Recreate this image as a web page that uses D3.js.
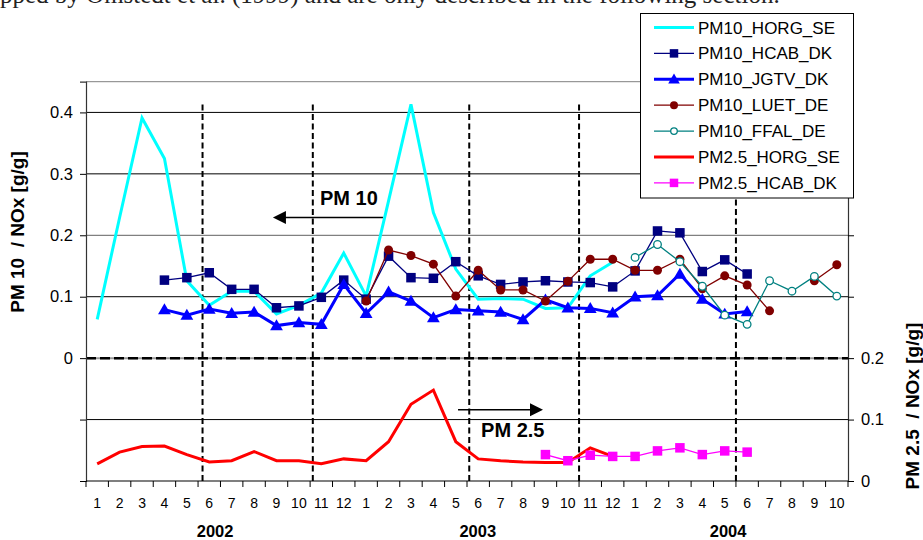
<!DOCTYPE html>
<html>
<head>
<meta charset="utf-8">
<script src="https://cdn.jsdelivr.net/npm/d3@7"></script>
<style>
  html, body { margin: 0; padding: 0; background: #fff; }
  svg { display: block; font-family: "Liberation Sans", Arial, sans-serif; }
</style>
</head>
<body>
<svg id="chart" width="923" height="540"></svg>
<script>
// ---------- data ----------
const monthLabels = [1,2,3,4,5,6,7,8,9,10,11,12, 1,2,3,4,5,6,7,8,9,10,11,12, 1,2,3,4,5,6,7,8,9,10];
const yearLabels = ["2002", "2003", "2004"];
const yearLabelAt = [5.76, 17.48, 28.65];          // position in month-index units
const seasonBreaks = [5.2, 10.12, 17.1, 22.0, 29.0]; // dashed separators, month-index units
const leftTicks = [0.4, 0.3, 0.2, 0.1, 0];
const rightTicks = [0.2, 0.1, 0];

const N = null;
const pm10_HORG_SE = [0.063,0.229,0.391,0.325,0.126,0.086,0.109,0.109,0.072,0.086,0.106,0.171,
                      0.101,0.256,0.413,0.237,0.145,0.096,0.097,0.096,0.081,0.082,0.134,0.156,
                      N,N,N,N,N,N,N,N,N,N];
const pm10_HCAB_DK = [N,N,N,0.127,0.131,0.139,0.112,0.112,0.082,0.085,0.099,0.127,
                      0.096,0.166,0.131,0.130,0.157,0.134,0.120,0.124,0.126,0.124,0.123,0.116,
                      0.142,0.207,0.204,0.141,0.160,0.137,N,N,N,N];
const pm10_JGTV_DK = [N,N,N,0.079,0.070,0.080,0.073,0.075,0.053,0.058,0.055,0.120,
                      0.073,0.108,0.093,0.066,0.079,0.077,0.075,0.063,0.095,0.082,0.081,0.074,
                      0.100,0.102,0.137,0.096,0.072,0.076,N,N,N,N];
const pm10_LUET_DE = [N,N,N,N,N,N,N,N,N,N,N,N,
                      0.093,0.176,0.167,0.153,0.101,0.143,0.111,0.111,0.093,0.125,0.161,0.161,
                      0.143,0.143,0.161,0.113,0.134,0.119,0.077,N,0.126,0.152];
const pm10_FFAL_DE = [N,N,N,N,N,N,N,N,N,N,N,N,
                      N,N,N,N,N,N,N,N,N,N,N,N,
                      0.164,0.185,0.157,0.117,0.070,0.055,0.126,0.109,0.133,0.101];
const pm25_HORG_SE = [0.028,0.047,0.056,0.057,0.043,0.031,0.033,0.048,0.033,0.033,0.028,0.036,
                      0.033,0.064,0.125,0.148,0.064,0.036,0.033,0.031,0.030,0.030,0.054,0.040,
                      N,N,N,N,N,N,N,N,N,N];
const pm25_HCAB_DK = [N,N,N,N,N,N,N,N,N,N,N,N,
                      N,N,N,N,N,N,N,N,0.043,0.033,0.042,0.040,
                      0.040,0.049,0.054,0.043,0.049,0.047,N,N,N,N];

const series = [
  { name: "PM10_HORG_SE", values: pm10_HORG_SE, axis: "L", color: "#00FFFF", width: 3,   marker: null },
  { name: "PM10_HCAB_DK", values: pm10_HCAB_DK, axis: "L", color: "#000080", width: 1.3, marker: "square" },
  { name: "PM10_JGTV_DK", values: pm10_JGTV_DK, axis: "L", color: "#0000FF", width: 3,   marker: "triangle" },
  { name: "PM10_LUET_DE", values: pm10_LUET_DE, axis: "L", color: "#800000", width: 1.3, marker: "circle" },
  { name: "PM10_FFAL_DE", values: pm10_FFAL_DE, axis: "L", color: "#008080", width: 1.3, marker: "open" },
  { name: "PM2.5_HORG_SE", values: pm25_HORG_SE, axis: "R", color: "#FF0000", width: 3,  marker: null },
  { name: "PM2.5_HCAB_DK", values: pm25_HCAB_DK, axis: "R", color: "#FF00FF", width: 1.3, marker: "square" }
];

// ---------- layout ----------
const svg = d3.select("#chart");
const L = 86, R = 848, T = 81.7, B = 481;

const x = d3.scaleBand().domain(d3.range(monthLabels.length)).range([L, R]).padding(0);
const xc = i => x(i) + x.bandwidth() / 2;
const xAt = f => L + f * x.step();
const yL = d3.scaleLinear().domain([-0.2, 0.45]).range([B, T]);
const yR = d3.scaleLinear().domain([0, 0.65]).range([B, T]);

svg.append("rect").attr("width", 923).attr("height", 540).attr("fill", "#fff");

// clipped line of the surrounding document text (top edge of the page crop)
svg.append("text").attr("x", 0).attr("y", 3).attr("font-family", "Liberation Serif, Times New Roman, serif")
  .attr("font-size", 25).attr("fill", "#222").attr("xml:space", "preserve")
  .text("pped by Omstedt et al. (1999) and are only described in the following section.");

// horizontal gridlines
const g = svg.append("g");
[-0.1, 0.1, 0.3, 0.4].forEach(v => {
  g.append("line").attr("x1", L).attr("x2", R).attr("y1", yL(v)).attr("y2", yL(v))
    .attr("stroke", "#000").attr("stroke-width", 1);
});
g.append("line").attr("x1", L).attr("x2", R).attr("y1", yL(0.2)).attr("y2", yL(0.2))
  .attr("stroke", "#808080").attr("stroke-width", 1.3);
// top border
g.append("line").attr("x1", L).attr("x2", R).attr("y1", T).attr("y2", T)
  .attr("stroke", "#808080").attr("stroke-width", 1);
// zero line: gray base + black dashes
g.append("line").attr("x1", L).attr("x2", R).attr("y1", yL(0)).attr("y2", yL(0))
  .attr("stroke", "#999").attr("stroke-width", 2);
g.append("line").attr("x1", L).attr("x2", R).attr("y1", yL(0)).attr("y2", yL(0))
  .attr("stroke", "#000").attr("stroke-width", 2.5).attr("stroke-dasharray", "10,4");

// season separators
seasonBreaks.forEach(f => {
  g.append("line").attr("x1", xAt(f)).attr("x2", xAt(f))
    .attr("y1", yL(0.413)).attr("y2", B)
    .attr("stroke", "#000").attr("stroke-width", 2).attr("stroke-dasharray", "6,3.5");
});

// axes
const axL = svg.append("g").attr("transform", `translate(${L},0)`)
  .call(d3.axisLeft(yL).tickValues([0.4,0.3,0.2,0.1,0,-0.1,-0.2]).tickSize(6).tickPadding(7)
    .tickFormat(v => leftTicks.some(t => Math.abs(t - v) < 1e-9) ? (v === 0 ? "0" : d3.format(".1f")(v)) : ""));
axL.select(".domain").attr("stroke", "#333").attr("stroke-width", 1.2);
axL.selectAll("text").attr("font-size", 16.5).attr("fill", "#000").attr("font-family", "Liberation Sans, Arial, sans-serif");

const axR = svg.append("g").attr("transform", `translate(${R},0)`)
  .call(d3.axisRight(yR).tickValues([0,0.1,0.2,0.3,0.4,0.5,0.6]).tickSize(6).tickPadding(7)
    .tickFormat(v => rightTicks.some(t => Math.abs(t - v) < 1e-9) ? (v === 0 ? "0" : d3.format(".1f")(v)) : ""));
axR.select(".domain").attr("stroke", "#333").attr("stroke-width", 1.2);
axR.selectAll("text").attr("font-size", 16.5).attr("fill", "#000").attr("font-family", "Liberation Sans, Arial, sans-serif");

// bottom axis: line + boundary ticks + month labels
const axB = svg.append("g");
axB.append("line").attr("x1", L).attr("x2", R).attr("y1", B).attr("y2", B).attr("stroke", "#000").attr("stroke-width", 1.2);
d3.range(monthLabels.length + 1).forEach(i => {
  axB.append("line").attr("x1", xAt(i)).attr("x2", xAt(i)).attr("y1", B).attr("y2", B + 6)
    .attr("stroke", "#000").attr("stroke-width", 1);
});
axB.selectAll("text.m").data(monthLabels).join("text").attr("class", "m")
  .attr("x", (d, i) => xc(i)).attr("y", 508).attr("text-anchor", "middle")
  .attr("font-size", 14).text(d => d);
axB.selectAll("text.y").data(yearLabels).join("text").attr("class", "y")
  .attr("x", (d, i) => xAt(yearLabelAt[i])).attr("y", 537).attr("text-anchor", "middle")
  .attr("font-size", 16.5).attr("font-weight", "bold").text(d => d);

// axis titles
svg.append("text").attr("transform", "translate(24,232) rotate(-90)")
  .attr("text-anchor", "middle").attr("font-size", 19).attr("font-weight", "bold")
  .attr("xml:space", "preserve").text("PM 10  / NOx [g/g]");
svg.append("text").attr("transform", "translate(919,406) rotate(-90)")
  .attr("text-anchor", "middle").attr("font-size", 19).attr("font-weight", "bold")
  .attr("xml:space", "preserve").text("PM 2.5  / NOx [g/g]");

// ---------- markers ----------
function drawMarker(sel, type, color, cx, cy, size) {
  const s = size;
  if (type === "square") {
    sel.append("rect").attr("x", cx - s/2).attr("y", cy - s/2).attr("width", s).attr("height", s).attr("fill", color);
  } else if (type === "triangle") {
    const h = s * 0.95;
    sel.append("path").attr("d", `M${cx},${cy - h*0.6} L${cx + s*0.58},${cy + h*0.45} L${cx - s*0.58},${cy + h*0.45} Z`).attr("fill", color);
  } else if (type === "circle") {
    sel.append("circle").attr("cx", cx).attr("cy", cy).attr("r", s/2).attr("fill", color);
  } else if (type === "open") {
    sel.append("circle").attr("cx", cx).attr("cy", cy).attr("r", s/2 - 0.7).attr("fill", "#fff")
      .attr("stroke", color).attr("stroke-width", 1.3);
  }
}
const markerSize = { square: 9.5, triangle: 11, circle: 9, open: 9 };

// ---------- series ----------
const plot = svg.append("g");
series.forEach(s => {
  const y = s.axis === "L" ? yL : yR;
  const line = d3.line().defined(d => d != null).x((d, i) => xc(i)).y(d => y(d));
  plot.append("path").attr("d", line(s.values)).attr("fill", "none")
    .attr("stroke", s.color).attr("stroke-width", s.width).attr("stroke-linejoin", "miter");
  if (s.marker) {
    const mg = plot.append("g");
    s.values.forEach((v, i) => {
      if (v != null) drawMarker(mg, s.marker, s.color, xc(i), y(v), markerSize[s.marker]);
    });
  }
});

// ---------- annotations ----------
function arrow(x1, x2, yy) {
  const dir = Math.sign(x2 - x1);
  svg.append("line").attr("x1", x1).attr("x2", x2 - dir * 12).attr("y1", yy).attr("y2", yy)
    .attr("stroke", "#000").attr("stroke-width", 1.5);
  svg.append("path").attr("d", `M${x2},${yy} L${x2 - dir*13},${yy - 6.5} L${x2 - dir*13},${yy + 6.5} Z`).attr("fill", "#000");
}
arrow(xAt(13.25), xAt(8.34), yL(0.229));
svg.append("text").attr("x", xAt(10.44)).attr("y", yL(0.25)).attr("font-size", 20)
  .attr("font-weight", "bold").text("PM 10");
arrow(xAt(16.6), xAt(20.39), yR(0.116));
svg.append("text").attr("x", xAt(17.63)).attr("y", yR(0.072)).attr("font-size", 20)
  .attr("font-weight", "bold").text("PM 2.5");

// ---------- legend ----------
const lg = svg.append("g");
lg.append("rect").attr("x", 640.5).attr("y", 13.5).attr("width", 213).attr("height", 184.5)
  .attr("fill", "#fff").attr("stroke", "#000").attr("stroke-width", 1);
series.forEach((s, i) => {
  const cy = 27.5 + i * 25.9;
  lg.append("line").attr("x1", 654).attr("x2", 694).attr("y1", cy).attr("y2", cy)
    .attr("stroke", s.color).attr("stroke-width", s.width);
  if (s.marker) drawMarker(lg, s.marker, s.color, 674, cy, markerSize[s.marker] - 1);
  lg.append("text").attr("x", 698).attr("y", cy + 6).attr("font-size", 17).text(s.name);
});
</script>
</body>
</html>
